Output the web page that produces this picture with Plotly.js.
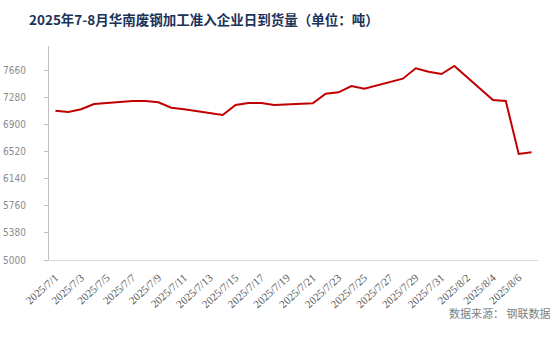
<!DOCTYPE html>
<html>
<head>
<meta charset="utf-8">
<script src="https://cdn.plot.ly/plotly-3.0.1.min.js"></script>
<style>
  html, body { margin: 0; padding: 0; background: #ffffff; }
  #chart { width: 554px; height: 354px; }
</style>
</head>
<body>
<div id="chart"></div>
<script>
const chartTitle = '2025年7-8月华南废钢加工准入企业日到货量（单位：吨）';
const sourceText = '数据来源： 钢联数据';
const dates = ['2025-07-01','2025-07-02','2025-07-03','2025-07-04','2025-07-07','2025-07-08','2025-07-09','2025-07-10','2025-07-11','2025-07-14','2025-07-15','2025-07-16','2025-07-17','2025-07-18','2025-07-21','2025-07-22','2025-07-23','2025-07-24','2025-07-25','2025-07-28','2025-07-29','2025-07-30','2025-07-31','2025-08-01','2025-08-04','2025-08-05','2025-08-06','2025-08-07'];
const arrivals = [7090,7072,7110,7184,7226,7226,7208,7132,7110,7030,7170,7198,7198,7170,7194,7328,7348,7436,7398,7538,7684,7636,7604,7716,7240,7226,6484,6508];

const trace = {
  x: dates,
  y: arrivals,
  type: 'scatter',
  mode: 'lines',
  line: { color: '#C00000', width: 2 },
  hoverinfo: 'x+y'
};

const layout = {
  width: 554,
  height: 354,
  margin: { l: 49, r: 16, t: 46, b: 94 },
  paper_bgcolor: '#ffffff',
  plot_bgcolor: '#ffffff',
  showlegend: false,
  title: {
    text: chartTitle,
    x: 29 / 554,
    xanchor: 'left',
    xref: 'container',
    y: 1 - 20 / 354,
    yanchor: 'middle',
    yref: 'container',
    font: { family: 'Noto Sans CJK SC', size: 13.5, color: '#1B3358', weight: 'bold' }
  },
  xaxis: {
    type: 'date',
    range: ['2025-06-30 12:00', '2025-08-07 12:00'],
    tick0: '2025-07-01',
    dtick: 172800000,
    tickformat: '%Y/%-m/%-d',
    tickangle: -42,
    ticks: '',
    ticklabelstandoff: 6,
    showline: true,
    linecolor: '#d9d9d9',
    linewidth: 1,
    showgrid: false,
    zeroline: false,
    tickfont: { family: 'Liberation Serif', size: 11, color: '#595959' }
  },
  yaxis: {
    range: [5000, 7996],
    tickmode: 'linear',
    tick0: 5000,
    dtick: 380,
    ticks: 'outside',
    ticklen: 4,
    tickcolor: '#bfbfbf',
    ticklabelstandoff: 16,
    showline: true,
    linecolor: '#bfbfbf',
    linewidth: 1,
    showgrid: false,
    zeroline: false,
    tickfont: { family: 'Liberation Sans Narrow, DejaVu Sans Condensed, Liberation Sans', size: 10, color: '#8c8c8c' }
  },
  annotations: [{
    text: sourceText,
    xref: 'paper',
    yref: 'paper',
    x: (447 - 49) / 489,
    y: -52.7 / 214,
    xanchor: 'left',
    yanchor: 'middle',
    showarrow: false,
    font: { family: 'Noto Sans CJK SC', size: 11, color: '#7f7f7f' }
  }]
};

Plotly.newPlot('chart', [trace], layout, { displayModeBar: false, staticPlot: true });
</script>
</body>
</html>
